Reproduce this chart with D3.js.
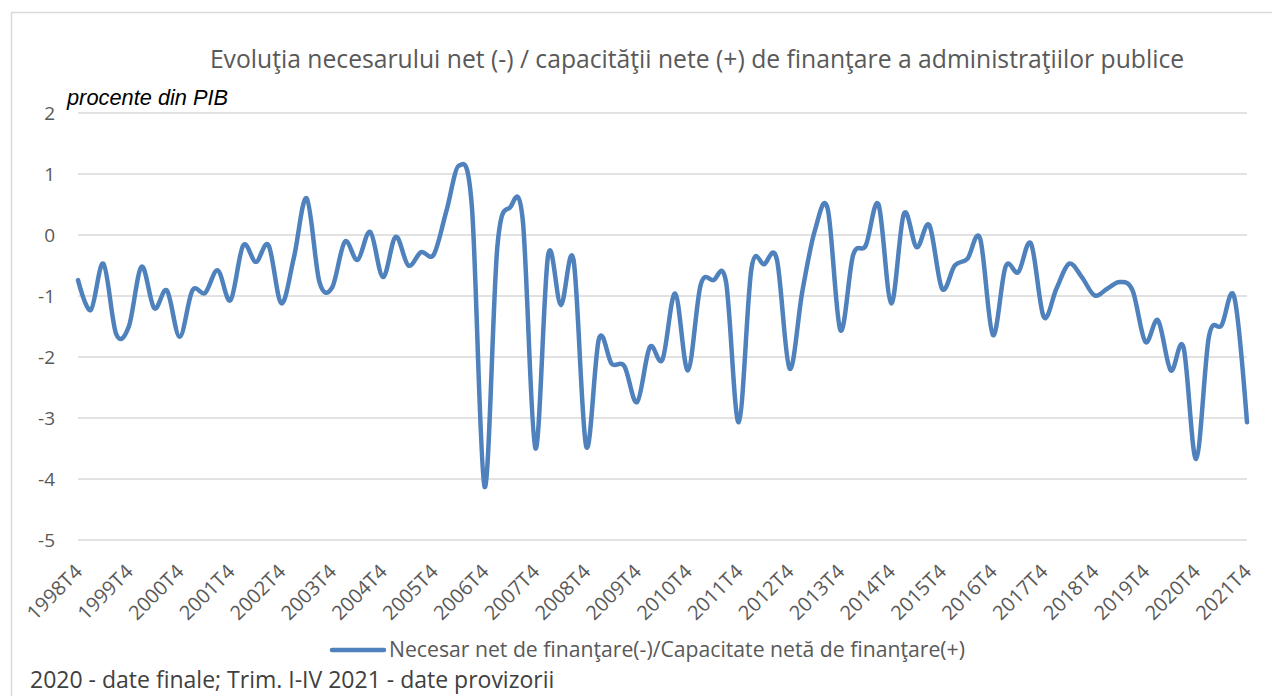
<!DOCTYPE html>
<html>
<head>
<meta charset="utf-8">
<script src="https://cdn.jsdelivr.net/npm/d3@7"></script>
<style>
  body { margin: 0; background: #fff; }
  text { font-family: "Open Sans", "Noto Sans", sans-serif; }
</style>
</head>
<body>
<div id="chart"></div>
<script>
// chart size
var svgWidth = 1272;
var svgHeight = 696;

// plot area borders
var margin = { top: 113, right: 25, bottom: 156, left: 78 };
var width = svgWidth - margin.left - margin.right;
var height = svgHeight - margin.top - margin.bottom;

// data: quarters 1998T4 .. 2021T4, % of GDP
var startYear = 1998;
var quarters = d3.range(93).map(function(i) {
    var q = (3 + i) % 4 + 1;
    var y = startYear + Math.floor((3 + i) / 4);
    return y + 'T' + q;
});
var balance = [
    -0.74, -1.23, -0.47, -1.62, -1.5, -0.52, -1.2, -0.91, -1.67, -0.91,
    -0.95, -0.58, -1.07, -0.17, -0.44, -0.17, -1.12, -0.36, 0.6, -0.77,
    -0.86, -0.11, -0.41, 0.05, -0.69, -0.03, -0.5, -0.28, -0.32, 0.4,
    1.14, 0.46, -4.13, -0.2, 0.45, 0.25, -3.5, -0.33, -1.15, -0.41,
    -3.47, -1.7, -2.11, -2.15, -2.74, -1.84, -2.04, -0.96, -2.22, -0.82,
    -0.74, -0.77, -3.07, -0.55, -0.48, -0.4, -2.19, -0.93, 0.08, 0.43,
    -1.56, -0.33, -0.17, 0.5, -1.12, 0.35, -0.2, 0.16, -0.88, -0.5,
    -0.39, -0.06, -1.64, -0.52, -0.61, -0.14, -1.34, -0.88, -0.47, -0.69,
    -0.99, -0.88, -0.77, -0.91, -1.75, -1.4, -2.22, -1.84, -3.67, -1.67,
    -1.48, -1.02, -3.07
];
var yTicks = [2, 1, 0, -1, -2, -3, -4, -5];

var titleText = 'Evoluţia necesarului net (-) / capacităţii nete (+) de finanţare a administraţiilor publice';
var unitText = 'procente din PIB';
var seriesName = 'Necesar net de finanţare(-)/Capacitate netă de finanţare(+)';
var noteText = '2020 - date finale; Trim. I-IV 2021 - date provizorii';

var svg = d3.select('#chart')
    .append('svg')
    .attr('width', svgWidth)
    .attr('height', svgHeight);

// chart area border (only left and top visible)
svg.append('rect')
    .attr('x', 11.5)
    .attr('y', 12.5)
    .attr('width', svgWidth)
    .attr('height', svgHeight)
    .attr('fill', 'none')
    .attr('stroke', '#d9d9d9')
    .attr('stroke-width', 1.5);

var chartGroup = svg.append('g')
    .attr('transform', `translate(${margin.left}, ${margin.top})`);

// scales
var xScale = d3.scalePoint()
    .domain(quarters)
    .range([0, width]);

var yScale = d3.scaleLinear()
    .domain([-5, 2])
    .range([height, 0]);

// gridlines
chartGroup.append('g')
    .selectAll('line')
    .data(yTicks)
    .enter()
    .append('line')
    .attr('x1', 0)
    .attr('x2', width)
    .attr('y1', d => yScale(d))
    .attr('y2', d => yScale(d))
    .attr('stroke', '#d9d9d9')
    .attr('stroke-width', 1.3);

// y axis labels
var leftAxis = d3.axisLeft(yScale)
    .tickValues(yTicks)
    .tickFormat(d => d < 0 ? '-' + Math.abs(d) : String(d))
    .tickSize(0)
    .tickPadding(23);
var yAxis = chartGroup.append('g').call(leftAxis);
yAxis.select('.domain').remove();
yAxis.selectAll('text')
    .attr('fill', '#595959')
    .attr('dy', '0.36em')
    .style('font-size', '19px');

// x axis labels (yearly, rotated)
var xTickValues = quarters.filter((d, i) => i % 4 === 0);
var bottomAxis = d3.axisBottom(xScale).tickValues(xTickValues).tickSize(0).tickPadding(0);
var xAxis = chartGroup.append('g')
    .attr('transform', `translate(0, ${height})`)
    .call(bottomAxis);
xAxis.select('.domain').remove();
xAxis.selectAll('text')
    .attr('fill', '#595959')
    .style('font-size', '20px')
    .attr('text-anchor', 'end')
    .attr('dy', 0)
    .attr('transform', 'translate(5, 33) rotate(-45)');

// the line
var line = d3.line()
    .x((d, i) => xScale(quarters[i]))
    .y(d => yScale(d))
    .curve(d3.curveCatmullRom.alpha(0));

chartGroup.append('path')
    .datum(balance)
    .attr('fill', 'none')
    .attr('stroke', '#4f81bd')
    .attr('stroke-width', 4.5)
    .attr('stroke-linejoin', 'round')
    .attr('stroke-linecap', 'round')
    .attr('d', line);

// title
svg.append('text')
    .attr('x', 697)
    .attr('y', 68)
    .attr('text-anchor', 'middle')
    .attr('fill', '#595959')
    .style('font-size', '24.7px')
    .text(titleText);

// unit label
svg.append('text')
    .attr('x', 67)
    .attr('y', 105)
    .attr('fill', '#000')
    .style('font-family', '"Liberation Sans", Arial, sans-serif')
    .style('font-style', 'italic')
    .style('font-size', '21.8px')
    .text(unitText);

// legend
var legend = svg.append('g');
legend.append('line')
    .attr('x1', 332)
    .attr('x2', 384)
    .attr('y1', 650)
    .attr('y2', 650)
    .attr('stroke', '#4f81bd')
    .attr('stroke-width', 4.5)
    .attr('stroke-linecap', 'round');
legend.append('text')
    .attr('x', 389)
    .attr('y', 657)
    .attr('fill', '#595959')
    .style('font-size', '21.2px')
    .text(seriesName);

// note
svg.append('text')
    .attr('x', 30)
    .attr('y', 688)
    .attr('fill', '#404040')
    .style('font-size', '23px')
    .text(noteText);
</script>
</body>
</html>
